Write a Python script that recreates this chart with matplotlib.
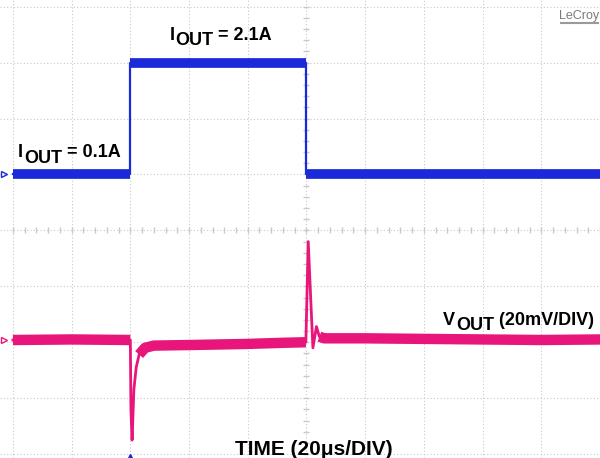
import numpy as np
import matplotlib
matplotlib.use("Agg")
from matplotlib import pyplot as plt

# Scope capture, in divisions (10 across, 8 high, 0 at the bottom line)
# Channel 1: output current
iout_t = [0.0, 2.0, 2.0, 5.0, 5.0, 10.0]
iout_y = [5.0, 5.0, 7.0, 7.0, 5.0, 5.0]

# Channel 2: output voltage (AC coupled)
vout_t = [0.0, 1.0, 2.0, 2.01, 2.03, 2.06, 2.1, 2.15, 2.25, 2.4, 3.0, 4.0, 4.6, 4.99,
          5.03, 5.08, 5.11, 5.17, 5.22, 5.3, 6.0, 7.0, 8.0, 9.0, 10.0]
vout_y = [2.04, 2.05, 2.04, 0.8, 0.25, 1.15, 1.55, 1.78, 1.9, 1.94, 1.95, 1.97, 1.99, 2.0,
          3.8, 2.6, 1.9, 2.28, 2.1, 2.07, 2.07, 2.06, 2.05, 2.04, 2.05]

# transient regions drawn with a thin stroke, the rest as a noisy band
vout_thin = [(2.0, 2.12), (4.99, 5.22)]

blue = "#1a2ad8"
pink = "#e8157a"
grid_c = "#c9c9c9"

plt.rcParams["font.family"] = ["Liberation Sans", "DejaVu Sans"]

fig = plt.figure(figsize=(6, 4.58), dpi=100)
ax = fig.add_axes([0, 0, 1, 1])
ax.set_xlim(-0.22, 10.0)
ax.set_ylim(-0.07, 8.12)
ax.axis("off")

# graticule
for x in range(11):
    ax.axvline(x, color=grid_c, lw=0.8, ls=(0, (1, 2)), zorder=0)
for y in range(9):
    ax.axhline(y, color=grid_c, lw=0.8, ls=(0, (1, 2)), zorder=0)
minor = np.arange(0, 10.01, 0.2)
ax.plot(minor, np.full_like(minor, 4.0), "|", color=grid_c, ms=4, zorder=0)
minor_v = np.arange(0, 8.01, 0.2)
ax.plot(np.full_like(minor_v, 5.0), minor_v, "_", color=grid_c, ms=4, zorder=0)

# current trace
ax.plot(iout_t, iout_y, color=blue, lw=1.6, zorder=3)
it = np.array(iout_t)
iy = np.array(iout_y, dtype=float)
for k in range(0, len(it), 2):
    ax.plot(it[k:k + 2], iy[k:k + 2], color=blue, lw=7, solid_capstyle="butt", zorder=3)

# voltage trace
vt = np.array(vout_t)
vy = np.array(vout_y, dtype=float)
ax.plot(vt, vy, color=pink, lw=2.0, zorder=3)
band = vy.copy()
for a, b in vout_thin:
    band[(vt > a) & (vt < b)] = np.nan
ax.plot(vt, band, color=pink, lw=7.5, solid_capstyle="butt", zorder=3)

# channel markers
ax.plot(-0.15, 5.0, marker=">", color=blue, ms=5, mfc="none", zorder=4)
ax.plot(-0.15, 2.04, marker=">", color=pink, ms=5, mfc="none", zorder=4)
ax.plot(2.0, -0.05, marker="^", color=blue, ms=4, zorder=4)


def label(x, y, main, sub, rest, fs=13):
    # y is the baseline of the main text; the subscript sits 4 pt lower
    t1 = ax.text(x, y, main, fontsize=fs, fontweight="bold", va="baseline", zorder=5)
    t2 = ax.annotate(sub, xy=(1, 0), xycoords=t1, xytext=(0.5, -4), textcoords="offset points",
                     fontsize=fs, fontweight="bold", va="bottom", zorder=5)
    ax.annotate(rest, xy=(1, 0), xycoords=t2, xytext=(0, 4), textcoords="offset points",
                fontsize=fs, fontweight="bold", va="bottom", zorder=5)


label(2.67, 7.41, "I", "OUT", " = 2.1A")
label(0.09, 5.31, "I", "OUT", " = 0.1A")
label(7.33, 2.31, "V", "OUT", " (20mV/DIV)")
ax.text(3.78, -0.02, "TIME (20\u03bcs/DIV)", fontsize=15, fontweight="bold", va="baseline", zorder=5)

ax.text(9.98, 7.84, "LeCroy", fontsize=9, color="#7a7a7a", ha="right", va="center", zorder=5)
ax.plot([9.34, 9.97], [7.71, 7.71], color="#9a9a9a", lw=1.5, zorder=5)

fig.savefig("out.png", dpi=100)
